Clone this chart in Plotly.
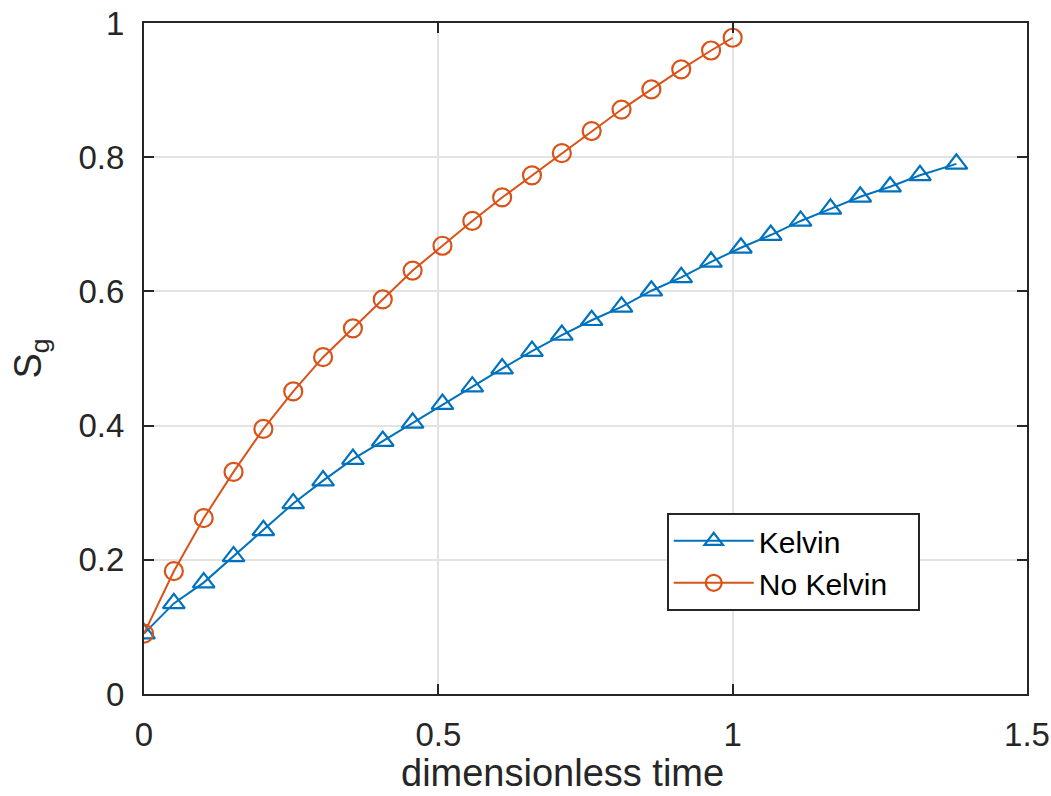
import plotly.graph_objects as go

# dimensionless time samples
t_kelvin = [0.0, 0.0507, 0.1014, 0.1521, 0.2028, 0.2535, 0.3042, 0.3549, 0.4056, 0.4563,
            0.5070, 0.5577, 0.6084, 0.6591, 0.7098, 0.7605, 0.8112, 0.8619, 0.9126, 0.9633,
            1.0140, 1.0647, 1.1154, 1.1661, 1.2168, 1.2675, 1.3182, 1.3800]
sg_kelvin = [0.090, 0.135, 0.166, 0.205, 0.244, 0.284, 0.318, 0.350, 0.377, 0.404,
             0.432, 0.458, 0.485, 0.511, 0.535, 0.557, 0.577, 0.601, 0.621, 0.644,
             0.665, 0.684, 0.705, 0.723, 0.741, 0.756, 0.773, 0.790]

t_nokelvin = [0.0, 0.0507, 0.1014, 0.1521, 0.2028, 0.2535, 0.3042, 0.3549, 0.4056, 0.4563,
              0.5070, 0.5577, 0.6084, 0.6591, 0.7098, 0.7605, 0.8112, 0.8619, 0.9126, 0.9633,
              1.0000]
sg_nokelvin = [0.090, 0.183, 0.262, 0.331, 0.395, 0.451, 0.502, 0.545, 0.588, 0.631,
               0.668, 0.705, 0.740, 0.773, 0.806, 0.839, 0.871, 0.901, 0.931, 0.959,
               0.978]

series_names = ["Kelvin", "No Kelvin"]

x_ticks = [0, 0.5, 1, 1.5]
x_ticklabels = ["0", "0.5", "1", "1.5"]
y_ticks = [0, 0.2, 0.4, 0.6, 0.8, 1.0]
y_ticklabels = ["0", "0.2", "0.4", "0.6", "0.8", "1"]
x_label = "dimensionless time"
y_label = "S<sub>g</sub>"

BLUE = "#0072BD"
ORANGE = "#D95319"
FONT = "Liberation Sans, Arial, sans-serif"
PAD = "\u00a0\u00a0\u00a0"

fig = go.Figure()
fig.add_trace(go.Scatter(
    x=t_kelvin, y=sg_kelvin, mode="lines+markers", name=series_names[0] + PAD,
    line=dict(color=BLUE, width=2),
    marker=dict(symbol="triangle-up-open", size=19, color=BLUE, line=dict(width=2.2, color=BLUE)),
))
fig.add_trace(go.Scatter(
    x=t_nokelvin, y=sg_nokelvin, mode="lines+markers", name=series_names[1] + PAD,
    line=dict(color=ORANGE, width=2),
    marker=dict(symbol="circle-open", size=18, color=ORANGE, line=dict(width=2.2, color=ORANGE)),
))

axis_common = dict(
    showline=True, linecolor="#262626", linewidth=2,
    mirror="ticks", ticks="inside", ticklen=10, tickwidth=2, tickcolor="#262626",
    showgrid=True, gridcolor="#e3e3e3", gridwidth=1.5,
    zeroline=False,
    tickfont=dict(family=FONT, size=33, color="#262626"),
)

fig.update_xaxes(
    range=[0, 1.5], tickmode="array", tickvals=x_ticks, ticktext=x_ticklabels,
    ticklabelstandoff=10,
    **axis_common,
)
fig.update_yaxes(
    range=[0, 1], tickmode="array", tickvals=y_ticks, ticktext=y_ticklabels,
    ticklabelstandoff=11,
    title=dict(text=y_label, font=dict(family=FONT, size=38, color="#262626"), standoff=25),
    **axis_common,
)

fig.add_annotation(
    text=x_label, xref="paper", yref="paper", x=0.4745, y=-0.118,
    xanchor="center", yanchor="middle", showarrow=False,
    font=dict(family=FONT, size=38, color="#262626"),
)

fig.update_layout(
    width=1051, height=796,
    margin=dict(l=144, r=24, t=23, b=102, autoexpand=False),
    paper_bgcolor="white", plot_bgcolor="white",
    font=dict(family=FONT, color="#262626"),
    showlegend=True,
    legend=dict(
        x=0.592, y=0.270, xanchor="left", yanchor="top",
        bgcolor="white", bordercolor="#262626", borderwidth=2,
        font=dict(family=FONT, size=30, color="black"),
        itemwidth=80, tracegroupgap=0,
    ),
)

fig.write_html(
    "out.html",
    config={"displayModeBar": False},
    post_script="document.body.style.margin='0px';document.body.style.overflow='hidden';",
)
